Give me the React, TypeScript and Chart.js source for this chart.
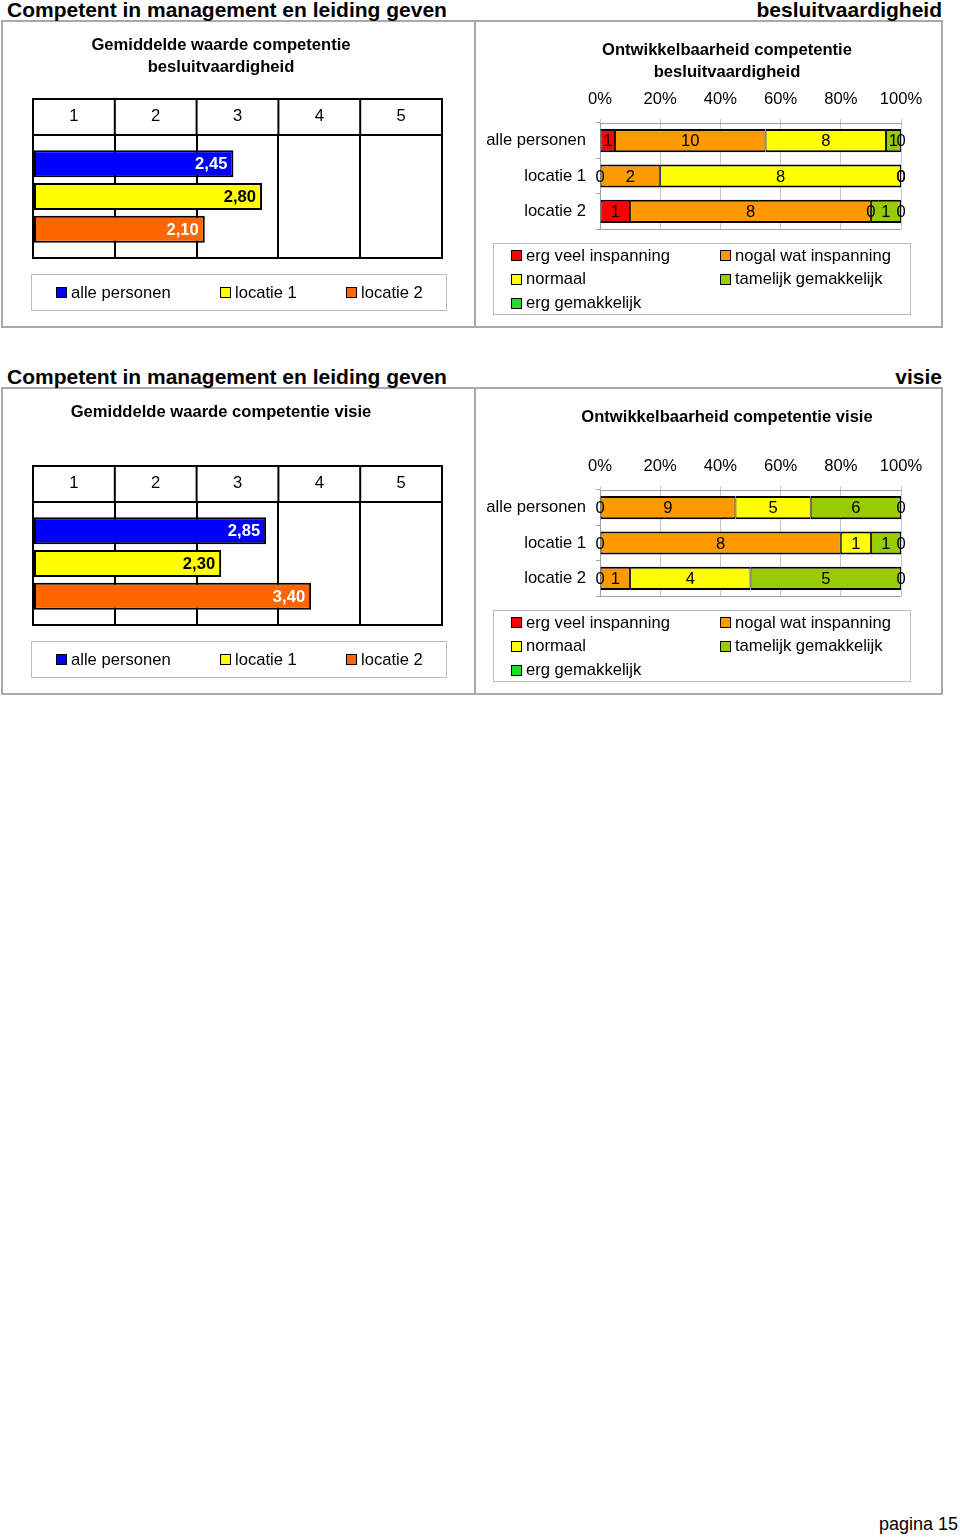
import React, { useEffect, useRef } from 'react';
import { Chart, registerables } from 'chart.js';

Chart.register(...registerables);

const FONT = '"Liberation Sans", Arial, Helvetica, sans-serif';
const FS = 16.6;

// ---------- data ----------
const pageHeading = 'Competent in management en leiding geven';
const pageFooter = 'pagina 15';
const competences = ['besluitvaardigheid', 'visie'];

const meanSeries = ['alle personen', 'locatie 1', 'locatie 2'];
const meanColors = ['#0000FF', '#FFFF00', '#FF6600'];
const meanLabelColors = ['#FFFFFF', '#000000', '#FFFFFF'];
const meanTicks = [1, 2, 3, 4, 5];
const meanBesluit = [2.45, 2.8, 2.1];
const meanVisie = [2.85, 2.3, 3.4];
const meanTitleBesluit = ['Gemiddelde waarde competentie', 'besluitvaardigheid'];
const meanTitleVisie = ['Gemiddelde waarde competentie visie'];

const devGroups = ['alle personen', 'locatie 1', 'locatie 2'];
const devLevels = ['erg veel inspanning', 'nogal wat inspanning', 'normaal', 'tamelijk gemakkelijk', 'erg gemakkelijk'];
const devColors = ['#FF0000', '#FF9900', '#FFFF00', '#99CC00', '#22DD22'];
const pctTicks = [0, 20, 40, 60, 80, 100];
const devTitleBesluit = ['Ontwikkelbaarheid competentie', 'besluitvaardigheid'];
const devTitleVisie = ['Ontwikkelbaarheid competentie visie'];

// counts per level, per group (alle personen, locatie 1, locatie 2)
const besluitErgVeel = [1, 0, 1];
const besluitNogalWat = [10, 2, 8];
const besluitNormaal = [8, 8, 0];
const besluitTamelijk = [1, 0, 1];
const besluitErgGemak = [0, 0, 0];

const visieErgVeel = [0, 0, 0];
const visieNogalWat = [9, 8, 1];
const visieNormaal = [5, 1, 4];
const visieTamelijk = [6, 1, 5];
const visieErgGemak = [0, 0, 0];

// ---------- plugins ----------
const meanHeaderPlugin = {
  id: 'meanHeader',
  afterDraw(chart: any) {
    const { ctx, chartArea, scales } = chart;
    const { left, right, top, bottom } = chartArea;
    const x = scales.x;
    const h = 36;
    ctx.save();
    ctx.strokeStyle = '#000000';
    ctx.lineWidth = 2;
    ctx.strokeRect(left, top - h, right - left, h);
    ctx.strokeRect(left, top, right - left, bottom - top);
    meanTicks.forEach((v) => {
      const px = x.getPixelForValue(v);
      ctx.beginPath();
      ctx.moveTo(px, top - h);
      ctx.lineTo(px, top);
      ctx.stroke();
    });
    ctx.fillStyle = '#000000';
    ctx.font = `${FS}px ${FONT}`;
    ctx.textAlign = 'center';
    ctx.textBaseline = 'middle';
    meanTicks.forEach((v) => {
      ctx.fillText(String(v), x.getPixelForValue(v - 0.5), top - h / 2 - 1);
    });
    ctx.restore();
  },
};

const meanLabelPlugin = {
  id: 'meanLabels',
  afterDatasetsDraw(chart: any) {
    const { ctx } = chart;
    ctx.save();
    ctx.font = `bold ${FS}px ${FONT}`;
    ctx.textAlign = 'right';
    ctx.textBaseline = 'middle';
    chart.data.datasets.forEach((ds: any, i: number) => {
      const meta = chart.getDatasetMeta(i);
      meta.data.forEach((el: any, j: number) => {
        const v = ds.data[j];
        ctx.fillStyle = meanLabelColors[i];
        ctx.fillText(v.toFixed(2).replace('.', ','), el.x - 6, el.y + 1);
      });
    });
    ctx.restore();
  },
};

const devLabelPlugin = {
  id: 'devLabels',
  afterDatasetsDraw(chart: any) {
    const { ctx } = chart;
    ctx.save();
    ctx.font = `${FS}px ${FONT}`;
    ctx.textAlign = 'center';
    ctx.textBaseline = 'middle';
    ctx.fillStyle = '#000000';
    chart.data.datasets.forEach((ds: any, i: number) => {
      const meta = chart.getDatasetMeta(i);
      meta.data.forEach((el: any, j: number) => {
        ctx.fillText(String(ds.counts[j]), (el.x + el.base) / 2, el.y + 1);
      });
    });
    ctx.restore();
  },
};

const devFramePlugin = {
  id: 'devFrame',
  afterDraw(chart: any) {
    const { ctx, chartArea } = chart;
    ctx.save();
    ctx.strokeStyle = '#A0A0A0';
    ctx.lineWidth = 1;
    ctx.beginPath();
    ctx.moveTo(chartArea.left, Math.round(chartArea.bottom) + 0.5);
    ctx.lineTo(chartArea.right, Math.round(chartArea.bottom) + 0.5);
    ctx.stroke();
    ctx.restore();
  },
};

const titleFont = { family: FONT, size: FS, weight: 'bold', lineHeight: '22px' };

// ---------- charts ----------
function MeanChart({ top, title, values }: any) {
  const ref = useRef<HTMLCanvasElement>(null);
  useEffect(() => {
    const chart = new Chart(ref.current as HTMLCanvasElement, {
      type: 'bar',
      data: {
        labels: [''],
        datasets: meanSeries.map((name, i) => ({
          label: name,
          data: [values[i]],
          backgroundColor: meanColors[i],
          borderColor: '#000000',
          borderWidth: 2,
          borderSkipped: false,
          inflateAmount: 0,
          categoryPercentage: 0.8,
          barPercentage: 0.82,
        })),
      },
      options: {
        indexAxis: 'y',
        animation: false,
        responsive: false,
        maintainAspectRatio: false,
        devicePixelRatio: 1,
        layout: { padding: { left: 0, right: 2, top: 0, bottom: 69 } },
        plugins: {
          legend: { display: false },
          tooltip: { enabled: false },
          title: {
            display: true,
            text: title,
            color: '#000000',
            font: titleFont,
            padding: { top: 13, bottom: 114 - 13 - 22 * title.length },
          },
        },
        scales: {
          x: {
            type: 'linear',
            position: 'top',
            min: 0,
            max: 5,
            afterBuildTicks: (s: any) => {
              s.ticks = [0, ...meanTicks].map((v) => ({ value: v }));
            },
            ticks: { display: false },
            grid: { color: '#000000', lineWidth: 2, drawTicks: false },
            border: { display: false },
          },
          y: {
            display: true,
            ticks: { display: false },
            grid: { display: false, drawTicks: false },
            border: { display: false },
            afterFit: (s: any) => {
              s.width = 33;
            },
          },
        },
      } as any,
      plugins: [meanHeaderPlugin, meanLabelPlugin],
    });
    return () => chart.destroy();
  }, []);
  return (
    <canvas
      ref={ref}
      width={444}
      height={306}
      style={{ position: 'absolute', left: 0, top, width: 444, height: 306 }}
    />
  );
}

function DevChart({ top, title, counts }: any) {
  const ref = useRef<HTMLCanvasElement>(null);
  useEffect(() => {
    const totals = devGroups.map((_, j) => counts.reduce((a: number, c: number[]) => a + c[j], 0));
    const titleH = 18 + 22 * title.length;
    const chart = new Chart(ref.current as HTMLCanvasElement, {
      type: 'bar',
      data: {
        labels: devGroups,
        datasets: devLevels.map((lvl, i) => ({
          label: lvl,
          data: counts[i].map((c: number, j: number) => (c / totals[j]) * 100),
          counts: counts[i],
          backgroundColor: devColors[i],
          borderColor: '#000000',
          borderWidth: { top: 2, bottom: 2, left: 1, right: 1 },
          borderSkipped: false,
          inflateAmount: 0,
          categoryPercentage: 0.8,
          barPercentage: 0.82,
        })),
      } as any,
      options: {
        indexAxis: 'y',
        animation: false,
        responsive: false,
        maintainAspectRatio: false,
        devicePixelRatio: 1,
        layout: { padding: { left: 0, right: 0, top: 0, bottom: 98 } },
        plugins: {
          legend: { display: false },
          tooltip: { enabled: false },
          title: {
            display: true,
            text: title,
            color: '#000000',
            font: titleFont,
            padding: { top: 18, bottom: 0 },
          },
        },
        scales: {
          x: {
            type: 'linear',
            stacked: true,
            position: 'top',
            min: 0,
            max: 100,
            afterBuildTicks: (s: any) => {
              s.ticks = pctTicks.map((v) => ({ value: v }));
            },
            ticks: {
              callback: (v: any) => `${v}%`,
              color: '#000000',
              font: { family: FONT, size: FS },
              padding: 10,
              maxRotation: 0,
              autoSkip: false,
            },
            grid: { color: '#C8C8C8', lineWidth: 1, tickLength: 4 },
            border: { color: '#A0A0A0', width: 1 },
            afterFit: (s: any) => {
              s.height = 102 - titleH;
            },
          },
          y: {
            stacked: true,
            ticks: { color: '#000000', font: { family: FONT, size: FS }, padding: 10, autoSkip: false },
            grid: { drawOnChartArea: false, tickLength: 4, color: '#A0A0A0' },
            border: { color: '#A0A0A0', width: 1 },
            afterFit: (s: any) => {
              s.width = 118;
            },
          },
          spacer: {
            type: 'linear',
            axis: 'y',
            position: 'right',
            display: true,
            ticks: { display: false },
            grid: { display: false, drawTicks: false },
            border: { display: false },
            afterFit: (s: any) => {
              s.width = 71;
            },
          },
        },
      } as any,
      plugins: [devLabelPlugin, devFramePlugin],
    });
    return () => chart.destroy();
  }, []);
  return (
    <canvas
      ref={ref}
      width={490}
      height={306}
      style={{ position: 'absolute', left: 482, top, width: 490, height: 306 }}
    />
  );
}

// ---------- legends ----------
const textStyle: any = { position: 'absolute', fontSize: FS, lineHeight: '20px', whiteSpace: 'nowrap', color: '#000' };
const markerStyle: any = { position: 'absolute', width: 11, height: 11, boxSizing: 'border-box', border: '1px solid #000' };

function MeanLegend({ off }: any) {
  const xs = [56, 220, 346];
  return (
    <>
      <div style={{ position: 'absolute', left: 31, top: off + 274, width: 416, height: 37, boxSizing: 'border-box', border: '1px solid #BBBBBB' }} />
      {meanSeries.map((name, i) => (
        <React.Fragment key={name}>
          <div style={{ ...markerStyle, left: xs[i], top: off + 287, background: meanColors[i] }} />
          <div style={{ ...textStyle, left: xs[i] + 15, top: off + 283 }}>{name}</div>
        </React.Fragment>
      ))}
    </>
  );
}

function DevLegend({ off }: any) {
  const cols = [511, 720];
  const markerTops = [250, 274, 298];
  const textTops = [246, 269, 293];
  return (
    <>
      <div style={{ position: 'absolute', left: 493, top: off + 243, width: 418, height: 72, boxSizing: 'border-box', border: '1px solid #BBBBBB' }} />
      {devLevels.map((name, i) => {
        const c = i % 2;
        const r = Math.floor(i / 2);
        return (
          <React.Fragment key={name}>
            <div style={{ ...markerStyle, left: cols[c], top: off + markerTops[r], background: devColors[i] }} />
            <div style={{ ...textStyle, left: cols[c] + 15, top: off + textTops[r] }}>{name}</div>
          </React.Fragment>
        );
      })}
    </>
  );
}

// ---------- section ----------
function Section({ off, competence, meanTitle, meanValues, devTitle, devCounts }: any) {
  const headStyle: any = { position: 'absolute', top: off - 2, fontSize: 21, fontWeight: 'bold', lineHeight: '24px', whiteSpace: 'nowrap' };
  return (
    <>
      <div style={{ position: 'absolute', left: 1, top: off + 20, width: 942, height: 308, boxSizing: 'border-box', border: '2px solid #AAAAAA' }} />
      <div style={{ position: 'absolute', left: 474, top: off + 20, width: 2, height: 308, background: '#AAAAAA' }} />
      <div style={{ ...headStyle, left: 7 }}>{pageHeading}</div>
      <div style={{ ...headStyle, right: 18, textAlign: 'right' }}>{competence}</div>
      <MeanChart top={off + 21} title={meanTitle} values={meanValues} />
      <MeanLegend off={off} />
      <DevChart top={off + 21} title={devTitle} counts={devCounts} />
      <DevLegend off={off} />
    </>
  );
}

export default function App() {
  useEffect(() => {
    document.body.style.margin = '0';
  }, []);
  return (
    <div style={{ position: 'absolute', left: 0, top: 0, width: 960, height: 1537, overflow: 'hidden', background: '#FFFFFF', fontFamily: FONT, color: '#000' }}>
      <Section
        off={0}
        competence={competences[0]}
        meanTitle={meanTitleBesluit}
        meanValues={meanBesluit}
        devTitle={devTitleBesluit}
        devCounts={[besluitErgVeel, besluitNogalWat, besluitNormaal, besluitTamelijk, besluitErgGemak]}
      />
      <Section
        off={367}
        competence={competences[1]}
        meanTitle={meanTitleVisie}
        meanValues={meanVisie}
        devTitle={devTitleVisie}
        devCounts={[visieErgVeel, visieNogalWat, visieNormaal, visieTamelijk, visieErgGemak]}
      />
      <div style={{ position: 'absolute', right: 2, top: 1514, fontSize: 18, lineHeight: '20px', whiteSpace: 'nowrap' }}>{pageFooter}</div>
    </div>
  );
}
